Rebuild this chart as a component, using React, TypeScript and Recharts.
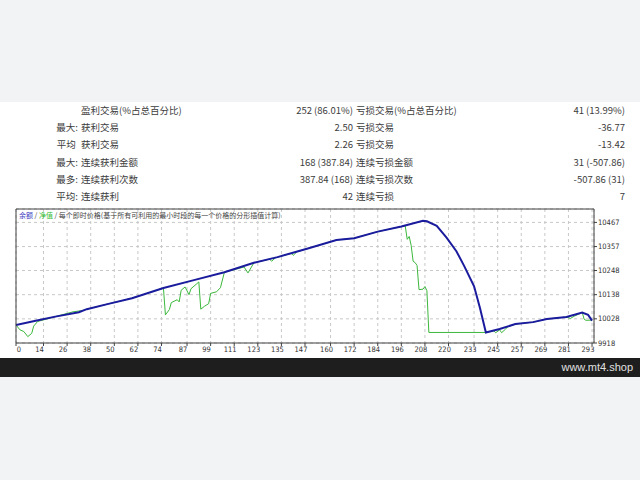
import React from "react";
import { LineChart, Line, XAxis, YAxis, CartesianGrid } from "recharts";

// balance curve (余额): trade number -> value
const balanceTrades = [0, 10, 20, 32, 36, 47, 59, 75, 90, 106, 121, 133, 148, 163, 172, 184, 196, 207, 209, 214, 219, 224, 228, 233, 236, 239, 246, 254, 263, 270, 280, 288, 291, 293];
const balanceValues = [10000, 10019, 10038, 10058, 10072, 10096, 10122, 10168, 10203, 10240, 10283, 10309, 10347, 10387, 10395, 10425, 10448, 10474, 10472, 10451, 10398, 10336, 10268, 10176, 10077, 9966, 9982, 10004, 10013, 10027, 10036, 10057, 10046, 10020];

// equity curve (净值)
const equityTrades = [0, 2, 4, 6, 8, 9, 11, 20, 29, 34, 36, 47, 59, 75, 76, 78, 79, 82, 83, 84, 86, 88, 89, 92, 93, 94, 96, 98, 99, 102, 104, 106, 116, 118, 121, 129, 130, 132, 140, 141, 143, 148, 163, 172, 184, 196, 198, 199, 200, 201, 202, 203, 204, 205, 207, 208, 209, 210, 239, 243, 244, 246, 247, 249, 250, 254, 263, 270, 280, 282, 284, 288, 289, 290, 292, 293];
const equityValues = [10000, 9978, 9970, 9947, 9962, 9995, 10016, 10038, 10060, 10066, 10072, 10096, 10122, 10168, 10046, 10070, 10102, 10115, 10105, 10158, 10173, 10138, 10165, 10188, 10196, 10072, 10086, 10097, 10144, 10151, 10170, 10240, 10264, 10237, 10283, 10300, 10290, 10306, 10326, 10317, 10334, 10347, 10387, 10395, 10425, 10448, 10450, 10390, 10403, 10362, 10290, 10284, 10271, 10161, 10163, 10175, 10156, 9966, 9966, 9973, 9965, 9978, 9965, 9981, 9991, 10004, 10013, 10027, 10036, 10030, 10040, 10057, 10026, 10021, 10022, 10020];

const xTicks = [0, 14, 26, 38, 50, 62, 74, 87, 99, 111, 123, 135, 147, 160, 172, 184, 196, 208, 220, 233, 245, 257, 269, 281, 293];
const yTicks = [9918, 10028, 10138, 10248, 10357, 10467];

// report table
const rowPrefixes = ["", "最大:", "平均\u00a0", "最大:", "最多:", "平均:"];
const winLabels = ["盈利交易(%占总百分比)", "获利交易", "获利交易", "连续获利金额", "连续获利次数", "连续获利"];
const winValues = ["252 (86.01%)", "2.50", "2.26", "168 (387.84)", "387.84 (168)", "42"];
const lossLabels = ["亏损交易(%占总百分比)", "亏损交易", "亏损交易", "连续亏损金额", "连续亏损次数", "连续亏损"];
const lossValues = ["41 (13.99%)", "-36.77", "-13.42", "31 (-507.86)", "-507.86 (31)", "7"];

const balanceData = balanceTrades.map((t, i) => ({ trade: t, value: balanceValues[i] }));
const equityData = equityTrades.map((t, i) => ({ trade: t, value: equityValues[i] }));

const textFont = "'Noto Sans CJK SC', 'Noto Sans', sans-serif";
const tickFont = "'Liberation Sans Narrow', 'DejaVu Sans Condensed', 'Liberation Sans', sans-serif";

const XTick = (props: any) => {
  const { x, y, payload } = props;
  const dx = payload.value === 0 ? 3 : -4;
  return (
    <text x={x + dx} y={y} dy="0.71em" textAnchor="middle" fontSize={7.5} fill="#333" fontFamily={tickFont}>
      {payload.value}
    </text>
  );
};

export default function App() {
  return (
    <div style={{ position: "absolute", left: 0, top: 0, width: 640, height: 480, background: "#f1f3f5", overflow: "hidden" }}>
      {/* white report panel */}
      <div style={{ position: "absolute", left: 0, top: 102, width: 640, height: 256, background: "#fff" }} />

      {/* stats table */}
      <div style={{ position: "absolute", left: 0, top: 102, width: 640, fontFamily: textFont, fontSize: 9.5, color: "#3c3c3c" }}>
        {winLabels.map((lbl, i) => (
          <div key={i} style={{ position: "relative", height: 17.2, lineHeight: "17.2px", whiteSpace: "pre" }}>
            <span style={{ position: "absolute", right: 640 - 78, textAlign: "right" }}>{rowPrefixes[i]}</span>
            <span style={{ position: "absolute", left: 81 }}>{lbl}</span>
            <span style={{ position: "absolute", right: 640 - 353 }}>{winValues[i]}</span>
            <span style={{ position: "absolute", left: 356 }}>{lossLabels[i]}</span>
            <span style={{ position: "absolute", right: 640 - 625 }}>{lossValues[i]}</span>
          </div>
        ))}
      </div>

      {/* balance / equity graph */}
      <div style={{ position: "absolute", left: 0, top: 200 }}>
        <LineChart width={640} height={160} margin={{ top: 8, right: 6, bottom: 3, left: 15 }}>
          <CartesianGrid stroke="#c8c8c8" strokeDasharray="3 3" />
          <XAxis
            dataKey="trade"
            type="number"
            domain={[0, 294]}
            ticks={xTicks}
            interval={0}
            height={14}
            tickSize={3}
            tickMargin={1}
            stroke="#404040"
            tick={<XTick />}
            allowDataOverflow
          />
          <XAxis xAxisId="top" orientation="top" type="number" domain={[0, 1]} height={1} tick={false} tickLine={false} stroke="#404040" />
          <YAxis
            orientation="right"
            type="number"
            domain={[9918, 10528]}
            ticks={yTicks}
            interval={0}
            width={40}
            tickSize={3}
            tickMargin={1}
            stroke="#404040"
            tick={{ fontSize: 7.5, fill: "#333", fontFamily: tickFont }}
            allowDataOverflow
          />
          <YAxis yAxisId="frame" orientation="left" type="number" domain={[0, 1]} width={1} tick={false} tickLine={false} stroke="#404040" />
          <Line
            data={equityData}
            dataKey="value"
            type="linear"
            stroke="#3cb83c"
            strokeWidth={1}
            dot={false}
            isAnimationActive={false}
          />
          <Line
            data={balanceData}
            dataKey="value"
            type="linear"
            stroke="#1b1b9e"
            strokeWidth={2}
            dot={false}
            isAnimationActive={false}
          />
        </LineChart>
      </div>

      {/* graph caption */}
      <div style={{ position: "absolute", left: 19, top: 210, fontFamily: textFont, fontSize: 7, color: "#444", whiteSpace: "pre" }}>
        <span style={{ color: "#3a3ac0" }}>余额</span>
        {" / "}
        <span style={{ color: "#33bb33" }}>净值</span>
        {" / 每个即时价格(基于所有可利用的最小时段的每一个价格的分形插值计算)"}
      </div>

      {/* footer bar */}
      <div style={{ position: "absolute", left: 0, top: 358, width: 640, height: 19, background: "#1e1e1e" }}>
        <span style={{ position: "absolute", right: 7, top: 0, lineHeight: "19px", fontFamily: "'Liberation Sans', Arial, sans-serif", fontSize: 11, color: "#e0e0e0" }}>
          www.mt4.shop
        </span>
      </div>
    </div>
  );
}
